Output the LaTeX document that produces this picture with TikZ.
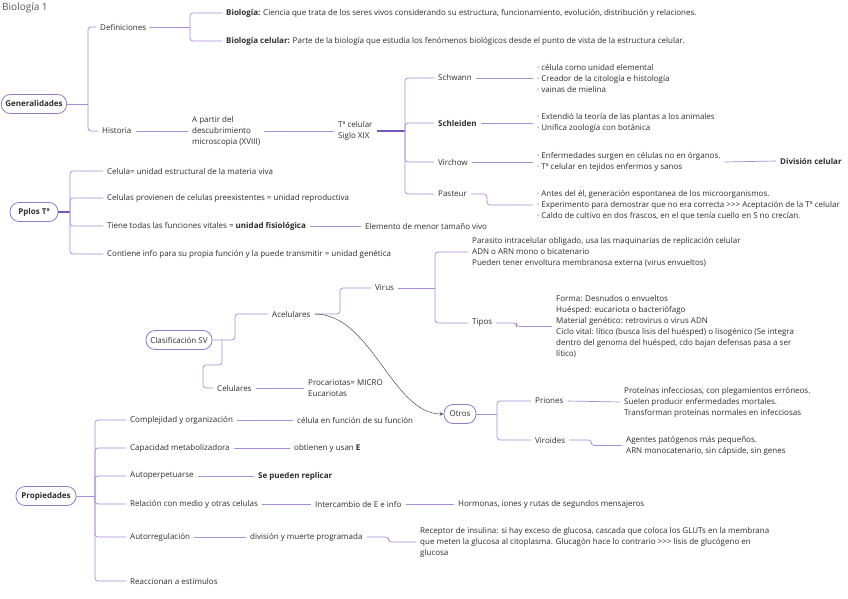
\documentclass[tikz,border=0pt]{standalone}
\usepackage{fontspec}
\setmainfont{Open Sans}
\usetikzlibrary{arrows.meta}
\definecolor{lnc}{RGB}{170,140,218}
\definecolor{lnd}{RGB}{120,85,190}
\definecolor{ovc}{RGB}{150,120,205}
\definecolor{tc}{RGB}{45,45,45}
\newcommand\fs{\fontsize{8}{11}\selectfont}
\newcommand\ggg{{>}{>}{>}}
\tikzset{
  ln/.style={draw=lnc, line width=0.7pt, rounded corners=3pt},
  thk/.style={draw=lnd, line width=1.6pt},
  txt/.style={anchor=west, xshift=-4pt, inner xsep=4pt, inner ysep=1pt, font=\fs, text=tc},
  blk/.style={txt, align=left},
  oval/.style={draw=ovc, line width=0.8pt, rounded corners=9pt, fill=white, minimum height=19pt, inner xsep=4pt, font=\fs\bfseries, text=tc},
  curv/.style={draw=black!70, line width=0.5pt, -{Stealth[length=4pt,width=3.5pt]}},
}
\begin{document}
\begin{tikzpicture}[x=1pt,y=-1pt]
\useasboundingbox[fill=white] (0,0) rectangle (848,599);
\node[anchor=west, inner sep=1pt, font=\fontsize{10}{12}\selectfont, text=black!65] (title) at (1,8) {Biología 1};

% ---------- Generalidades ----------
\node[oval, minimum width=62pt] (gen) at (34,104) {Generalidades};
\node[txt] (defs) at (100,27) {Definiciones};
\node[txt] (d1) at (226,13) {\textbf{Biología:} Ciencia que trata de los seres vivos considerando su estructura, funcionamiento, evolución, distribución y relaciones.};
\node[txt] (d2) at (226,41) {\textbf{Biología celular:} Parte de la biología que estudia los fenómenos biológicos desde el punto de vista de la estructura celular.};
\node[txt] (hist) at (102,131) {Historia};
\node[blk] (desc) at (192,131) {A partir del\\descubrimiento\\microscopia (XVIII)};
\node[blk] (tcel) at (338,131) {Tª celular\\Siglo XIX};
\node[txt] (schw) at (438,78) {Schwann};
\node[txt, font=\fs\bfseries] (schl) at (438,123) {Schleiden};
\node[txt] (virc) at (438,162) {Virchow};
\node[txt] (past) at (438,194) {Pasteur};
\node[blk] (schwb) at (537,78) {· célula como unidad elemental\\· Creador de la citología e histología\\· vainas de mielina};
\node[blk] (schlb) at (537,123) {· Extendió la teoría de las plantas a los animales\\· Unifica zoología con botánica};
\node[blk] (vircb) at (537,162) {· Enfermedades surgen en células no en órganos.\\· Tª celular en tejidos enfermos y sanos};
\node[txt, font=\fs\bfseries] (divc) at (780,161) {División celular};
\node[blk] (pastb) at (537,205) {· Antes del él, generación espontanea de los microorganismos.\\· Experimento para demostrar que no era correcta \ggg\ Aceptación de la Tª celular\\· Caldo de cultivo en dos frascos, en el que tenía cuello en S no crecían.};

\coordinate (jg) at (88,104);
\draw[ln] (gen.east) -- (jg);
\draw[ln] (jg) |- (defs.west);
\draw[ln] (jg) |- (hist.west);
\coordinate (jd) at (190,27);
\draw[ln] (defs.east) -- (jd);
\draw[ln] (jd) |- (d1.west);
\draw[ln] (jd) |- (d2.west);
\draw[ln] (hist.east) -- (desc.west);
\draw[ln] (desc.east) -- (tcel.west);
\coordinate (jt) at (405,131);
\draw[thk] (tcel.east) -- (jt);
\draw[ln] (jt) |- (schw.west);
\draw[ln] (jt) |- (schl.west);
\draw[ln] (jt) |- (virc.west);
\draw[ln] (jt) |- (past.west);
\draw[ln] (schw.east) -- (schwb.west);
\draw[ln] (schl.east) -- (schlb.west);
\draw[ln] (virc.east) -- (vircb.west);
\draw[ln] (vircb.east) -- (divc.west);
\draw[ln] (past.east) -- ++(16,0) |- (pastb.west);

% ---------- Pplos ----------
\node[oval, minimum width=48pt] (pplos) at (34,212) {Pplos Tª};
\node[txt] (p1) at (107,171) {Celula= unidad estructural de la materia viva};
\node[txt] (p2) at (107,198) {Celulas provienen de celulas preexistentes = unidad reproductiva};
\node[txt] (p3) at (107,226) {Tiene todas las funciones vitales = \textbf{unidad fisiológica}};
\node[txt] (p3b) at (365,226) {Elemento de menor tamaño vivo};
\node[txt] (p4) at (107,254) {Contiene info para su propia función y la puede transmitir = unidad genética};
\coordinate (jp) at (70,212);
\draw[thk, line width=1.2pt] (pplos.east) -- (jp);
\draw[ln] (jp) |- (p1.west);
\draw[ln] (jp) |- (p2.west);
\draw[ln] (jp) |- (p3.west);
\draw[ln] (jp) |- (p4.west);
\draw[ln] (p3.east) -- (p3b.west);

% ---------- Clasificacion ----------
\node[oval, minimum width=66pt, font=\fs] (clas) at (179,340) {Clasificación SV};
\node[txt] (acel) at (272,314) {Acelulares};
\node[txt] (virus) at (375,288) {Virus};
\node[blk] (virb) at (472,252) {Parasito intracelular obligado, usa las maquinarias de replicación celular\\ADN o ARN mono o bicatenario\\Pueden tener envoltura membranosa externa (virus envueltos)};
\node[txt] (tipos) at (472,323) {Tipos};
\node[blk] (tiposb) at (556,326.5) {Forma: Desnudos o envueltos\\Huésped: eucariota o bacteriófago\\Material genético: retrovirus o virus ADN\\Ciclo vital: lítico (busca lisis del huésped) o lisogénico (Se integra\\dentro del genoma del huésped, cdo bajan defensas pasa a ser\\lítico)};
\node[txt] (celu) at (217,388) {Celulares};
\node[blk] (proc) at (308,388) {Procariotas= MICRO\\Eucariotas};
\node[oval, minimum width=32pt, inner xsep=3pt, font=\fs] (otros) at (460,414) {Otros};
\node[txt] (prio) at (535,401) {Priones};
\node[blk] (priob) at (624,402) {Proteínas infecciosas, con plegamientos erróneos.\\Suelen producir enfermedades mortales.\\Transforman proteínas normales en infecciosas};
\node[txt] (viro) at (535,440) {Viroides};
\node[blk] (virob) at (626,445.5) {Agentes patógenos más pequeños.\\ARN monocatenario, sin cápside, sin genes};

\coordinate (jc) at (222,340);
\draw[ln] (clas.east) -- (jc) -- (235,340) |- (acel.west);
\draw[ln] (jc) -- (222,365) -- (203,365) |- (celu.west);
\draw[ln] (acel.east) -- (340,314) |- (virus.west);
\coordinate (jv) at (435,288);
\draw[ln] (virus.east) -- (jv);
\draw[ln] (jv) |- (virb.west);
\draw[ln] (jv) |- (tipos.west);
\draw[ln] (tipos.east) -- ++(20,0) |- (tiposb.west);
\draw[ln] (celu.east) -- (proc.west);
\draw[curv] (acel.east) .. controls (372,314) and (392,414) .. (otros.west);
\coordinate (jo) at (497,414);
\draw[ln] (otros.east) -- (jo);
\draw[ln] (jo) |- (prio.west);
\draw[ln] (jo) |- (viro.west);
\draw[ln] (prio.east) -- (priob.west);
\draw[ln] (viro.east) -- ++(22,0) |- (virob.west);

% ---------- Propiedades ----------
\node[oval, minimum width=60pt] (prop) at (46,496) {Propiedades};
\node[txt] (q1) at (130,420) {Complejidad y organización};
\node[txt] (q1b) at (297,420) {célula en función de su función};
\node[txt] (q2) at (130,448) {Capacidad metabolizadora};
\node[txt] (q2b) at (294,448) {obtienen y usan \textbf{E}};
\node[txt] (q3) at (130,476) {Autoperpetuarse};
\node[txt, font=\fs\bfseries] (q3b) at (258,476) {Se pueden replicar};
\node[txt] (q4) at (130,504) {Relación con medio y otras celulas};
\node[txt] (q4b) at (315,504) {Intercambio de E e info};
\node[txt] (q4c) at (458,504) {Hormonas, iones y rutas de segundos mensajeros};
\node[txt] (q5) at (130,537) {Autorregulación};
\node[txt] (q5b) at (250,537) {división y muerte programada};
\node[blk] (q5c) at (420,542) {Receptor de insulina: si hay exceso de glucosa, cascada que coloca los GLUTs en la membrana\\que meten la glucosa al citoplasma. Glucagón hace lo contrario \ggg\ lisis de glucógeno en\\glucosa};
\node[txt] (q6) at (130,581) {Reaccionan a estímulos};
\coordinate (jq) at (95,496);
\draw[ln] (prop.east) -- (jq);
\foreach \n in {q1,q2,q3,q4,q5,q6} \draw[ln] (jq) |- (\n.west);
\draw[ln] (q1.east) -- (q1b.west);
\draw[ln] (q2.east) -- (q2b.west);
\draw[ln] (q3.east) -- (q3b.west);
\draw[ln] (q4.east) -- (q4b.west);
\draw[ln] (q4b.east) -- (q4c.west);
\draw[ln] (q5.east) -- (q5b.west);
\draw[ln] (q5b.east) -- ++(22,0) |- (q5c.west);
\end{tikzpicture}
\end{document}
